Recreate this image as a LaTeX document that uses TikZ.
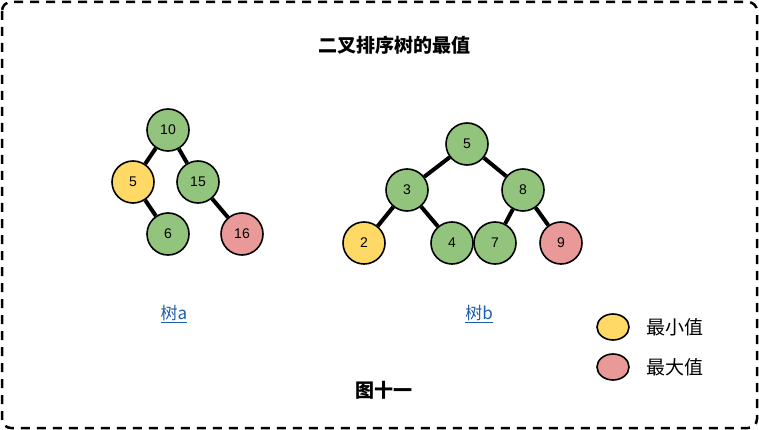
\documentclass[tikz,border=0pt]{standalone}
\usepackage{fontspec}
\setmainfont{Liberation Sans}
\newfontfamily\cjk{Noto Sans CJK SC}
\definecolor{vgreen}{HTML}{93C47D}
\definecolor{vyellow}{HTML}{FFD966}
\definecolor{vpink}{HTML}{EA9999}
\definecolor{linkblue}{HTML}{1F5FA8}
\begin{document}
\begin{tikzpicture}[
        x = 1pt, y = -1pt,
        vtx/.style = {
            draw, line width = 1.6pt,
            circle,
            text = black,
            font = \fontsize{14}{14}\selectfont,
            minimum size = 42pt,
            inner sep = 0pt,
            fill = vgreen,
        },
        link/.style = {
            line width = 4pt,
        },
        treename/.style = {
            text = linkblue,
            font = \cjk\fontsize{17}{17}\selectfont,
        },
        caption/.style = {
            font = \cjk\bfseries\fontsize{19}{19}\selectfont,
        },
        legendtext/.style = {
            anchor = west,
            font = \cjk\fontsize{19}{19}\selectfont,
        }
    ]
    \useasboundingbox (0,0) rectangle (759,430);
    \draw[line width=2.5pt, dash pattern=on 9pt off 7pt, rounded corners=9pt]
        (2,2) rectangle (757,428);

    \node[caption] (title) at (394,45) {二叉排序树的最值};

    % tree a
    \node[vtx]              (a10) at (168,130) {10};
    \node[vtx,fill=vyellow] (a5)  at (133,182) {5};
    \node[vtx]              (a15) at (198,182) {15};
    \node[vtx]              (a6)  at (168,234) {6};
    \node[vtx,fill=vpink]   (a16) at (242,234) {16};

    \draw[link] (a10) -- (a5);
    \draw[link] (a10) -- (a15);
    \draw[link] (a5)  -- (a6);
    \draw[link] (a15) -- (a16);

    % tree b
    \node[vtx]              (b5) at (467,144) {5};
    \node[vtx]              (b3) at (407,190) {3};
    \node[vtx]              (b8) at (523,190) {8};
    \node[vtx,fill=vyellow] (b2) at (364,243) {2};
    \node[vtx]              (b4) at (452,243) {4};
    \node[vtx]              (b7) at (495,243) {7};
    \node[vtx,fill=vpink]   (b9) at (561,243) {9};

    \draw[link] (b5) -- (b3);
    \draw[link] (b5) -- (b8);
    \draw[link] (b3) -- (b2);
    \draw[link] (b3) -- (b4);
    \draw[link] (b8) -- (b7);
    \draw[link] (b8) -- (b9);

    \node[treename] (na) at (174,314) {\underline{树a}};
    \node[treename] (nb) at (479,314) {\underline{树b}};

    % legend
    \draw[line width=1.6pt, fill=vyellow] (613,327) ellipse (16pt and 13pt);
    \draw[line width=1.6pt, fill=vpink]   (613,367) ellipse (16pt and 13pt);
    \node[legendtext] (lmin) at (643,327) {最小值};
    \node[legendtext] (lmax) at (643,367) {最大值};

    \node[caption] (cap) at (384,390) {图十一};
\end{tikzpicture}
\end{document}
